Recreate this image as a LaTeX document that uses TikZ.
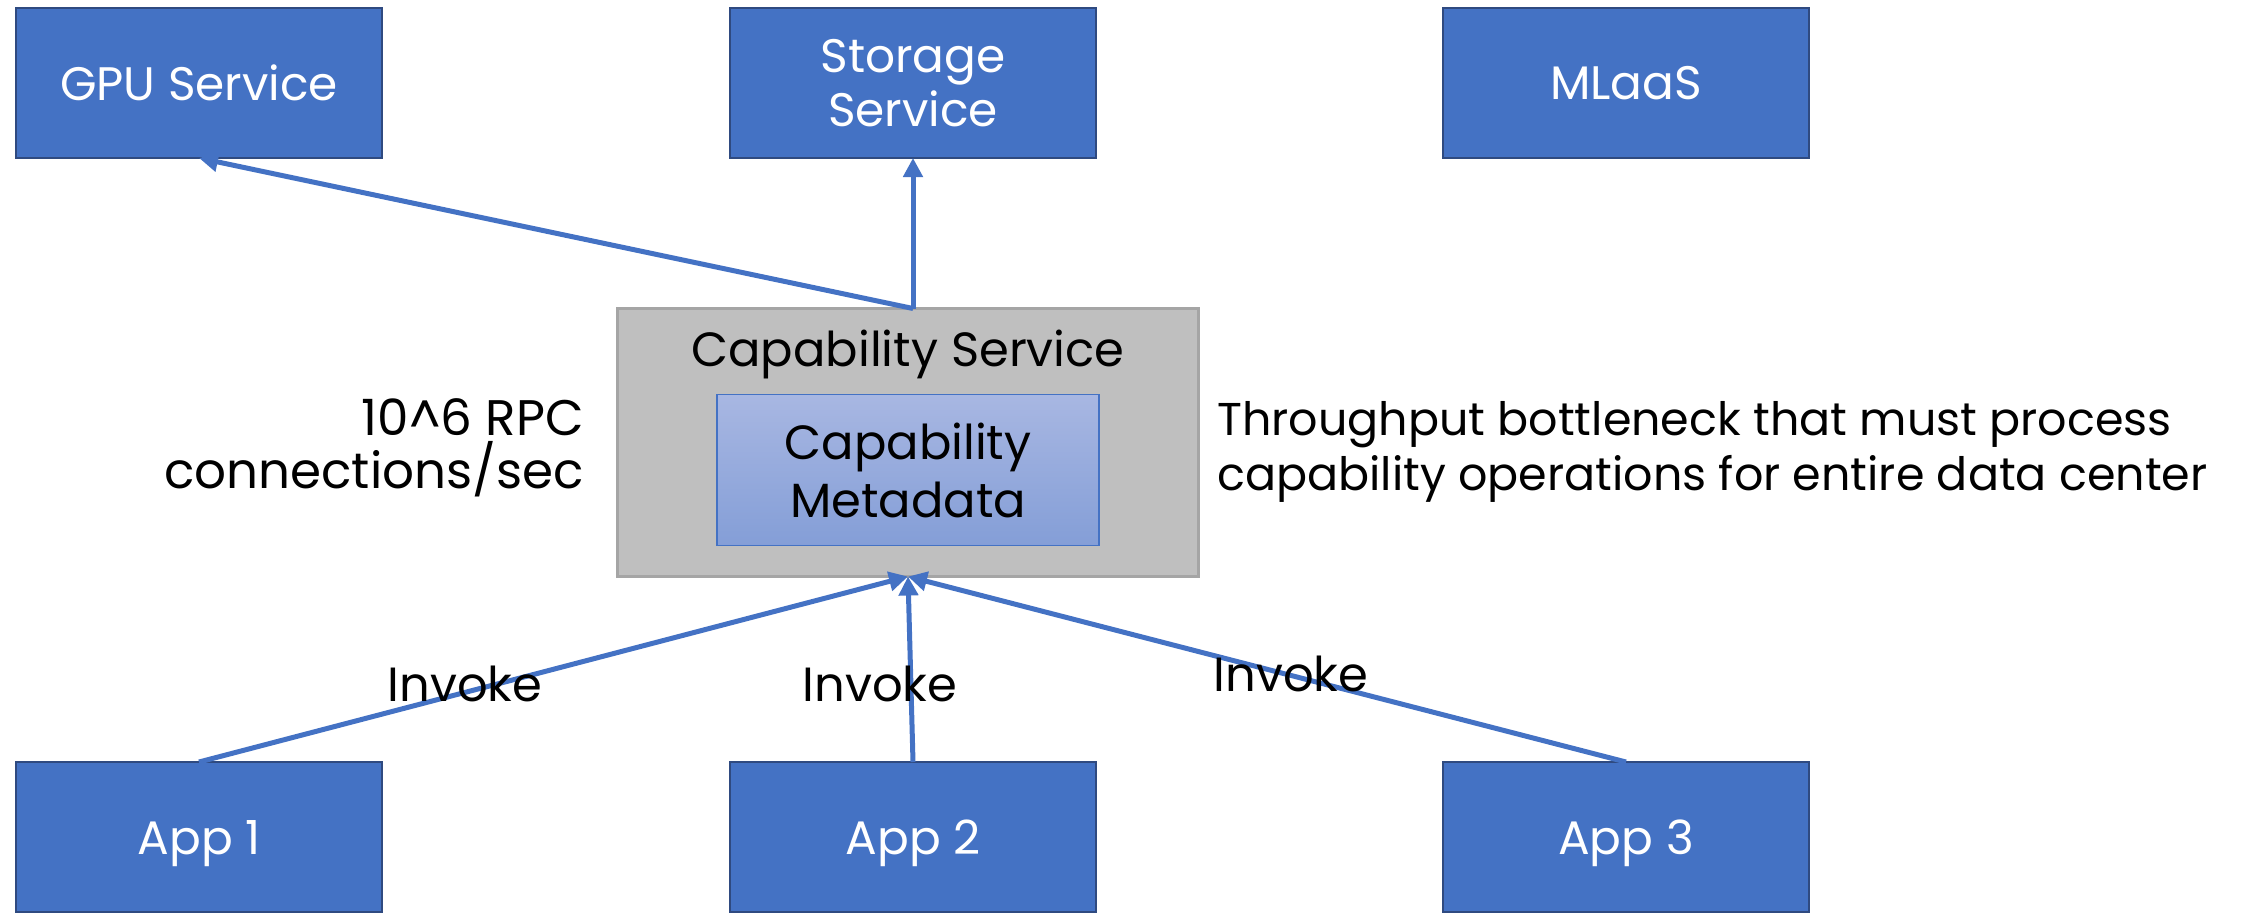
\documentclass[tikz,border=0pt]{standalone}
\usepackage{fontspec}
\setmainfont{Poppins}
\usetikzlibrary{arrows.meta}
\definecolor{svcblue}{HTML}{4472C4}
\definecolor{svcedge}{HTML}{2F4A80}
\definecolor{capgray}{HTML}{BFBFBF}
\definecolor{capedge}{HTML}{A5A5A5}
\definecolor{metatop}{HTML}{A8B7E2}
\definecolor{metabot}{HTML}{849ED7}
\tikzset{
  svc/.style={draw=svcedge, line width=2pt, fill=svcblue, text=white,
    minimum width=366pt, minimum height=150pt, inner sep=0pt, outer sep=0pt,
    align=center, font=\fontsize{47}{54}\selectfont},
  appbox/.style={svc, text depth=0pt},
  capbox/.style={draw=capedge, line width=2.5pt, fill=capgray,
    minimum width=581pt, minimum height=268pt, inner sep=0pt, outer sep=0pt},
  metabox/.style={draw=svcblue, line width=1.5pt, top color=metatop, bottom color=metabot,
    minimum width=382pt, minimum height=151pt, inner sep=0pt, outer sep=0pt,
    align=center, font=\fontsize{48}{58}\selectfont},
  lbl/.style={font=\fontsize{48}{54}\selectfont, inner sep=0pt, text=black},
  flow/.style={draw=svcblue, line width=5pt, -{Triangle[length=19pt,width=19pt]}},
}
\begin{document}
\begin{tikzpicture}[x=1pt, y=-1pt]
  \useasboundingbox (0,0) rectangle (2243,913);

  % services on top
  \node[svc] (gpu) at (199,83) {GPU Service};
  \node[svc] (sto) at (913,83) {Storage\\Service};
  \node[svc] (mlaas) at (1626,83) {MLaaS};

  % capability service with its metadata store
  \node[capbox] (cap) at (908,442.5) {};
  \node[lbl] (captitle) at (908,354) {Capability Service};
  \node[metabox] (meta) at (908,470) {Capability\\Metadata};

  % applications at the bottom
  \node[appbox] (app1) at (199,837) {App 1};
  \node[appbox] (app2) at (913,837) {App 2};
  \node[appbox] (app3) at (1626,837) {App 3};

  % side notes
  \node[lbl, anchor=east, align=right, font=\fontsize{50}{53}\selectfont] (rate) at (584,448) {10\textasciicircum6 RPC\\connections/sec};
  \node[lbl, anchor=west, align=left, font=\fontsize{46}{55}\selectfont] (note) at (1217,452) {Throughput bottleneck that must process\\capability operations for entire data center};

  % outgoing calls
  \coordinate (capout) at (sto.south |- cap.north);
  \draw[flow] (capout) -- (gpu.south);
  \draw[flow] (capout) -- (sto.south);

  % invocations
  \draw[flow] (app1.north) -- (cap.south);
  \draw[flow] (app2.north) -- (cap.south);
  \draw[flow] (app3.north) -- (cap.south);
  \node[lbl] (inv1) at (465,684) {Invoke};
  \node[lbl] (inv2) at (880,684) {Invoke};
  \node[lbl] (inv3) at (1291,674) {Invoke};
\end{tikzpicture}
\end{document}
